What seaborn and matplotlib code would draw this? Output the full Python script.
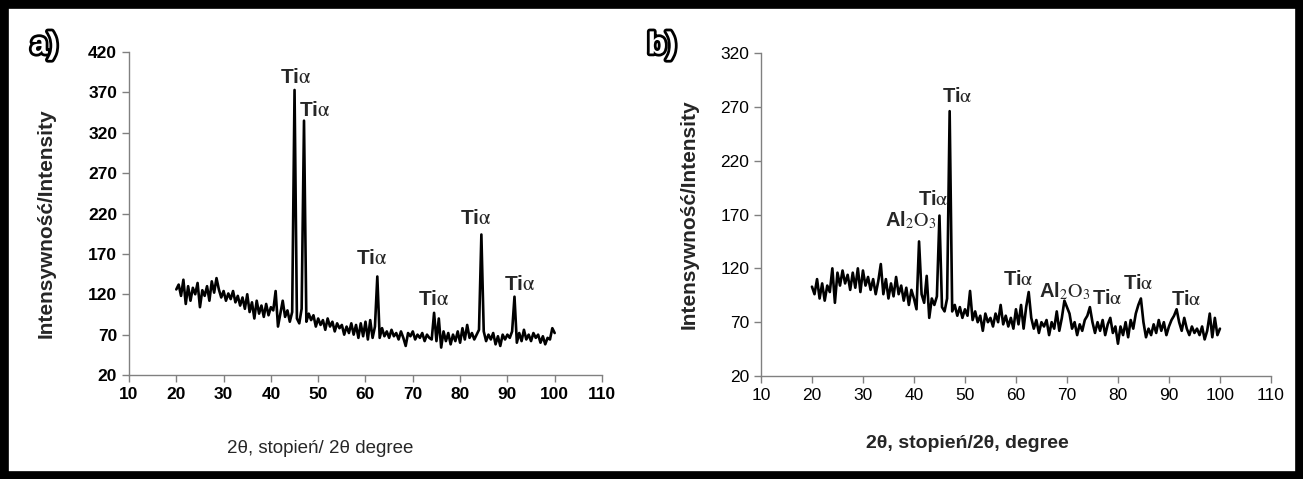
import numpy as np
import pandas as pd
import matplotlib
matplotlib.use("Agg")
import matplotlib.pyplot as plt
import matplotlib.patheffects as pe
from matplotlib.patches import Rectangle
import seaborn as sns

# 2theta grid, step 0.5 deg
two_theta = np.arange(20.0, 100.01, 0.5)

intensity_a = [
    126, 132, 118, 138, 108, 130, 112, 128, 120, 134,
    104, 125, 118, 130, 112, 136, 122, 140, 126, 116,
    124, 112, 121, 114, 124, 110, 118, 106, 116, 102,
    120, 98, 110, 90, 112, 96, 106, 92, 108, 94,
    104, 100, 124, 80, 96, 112, 92, 100, 86, 98,
    373, 90, 84, 102, 335, 86, 96, 88, 94, 80,
    90, 82, 88, 76, 90, 80, 86, 74, 84, 78,
    82, 70, 80, 72, 84, 70, 82, 66, 84, 68,
    86, 64, 88, 66, 80, 142, 66, 78, 68, 74,
    66, 76, 68, 72, 64, 74, 66, 56, 72, 68,
    74, 64, 70, 66, 72, 62, 70, 66, 64, 97,
    62, 90, 54, 74, 62, 72, 58, 70, 62, 74,
    60, 78, 64, 82, 66, 72, 64, 70, 76, 194,
    74, 62, 70, 64, 72, 58, 68, 56, 70, 64,
    70, 66, 74, 117, 60, 72, 62, 76, 64, 70,
    62, 72, 66, 70, 60, 68, 58, 66, 64, 78,
    72,
]

intensity_b = [
    103, 96, 110, 92, 106, 90, 104, 98, 120, 88,
    116, 104, 118, 106, 114, 100, 116, 102, 120, 98,
    118, 104, 112, 100, 110, 96, 108, 124, 96, 110,
    92, 106, 94, 112, 96, 104, 90, 102, 86, 100,
    92, 82, 145, 96, 88, 113, 74, 92, 86, 94,
    169, 84, 80, 92, 266, 80, 86, 76, 84, 74,
    82, 76, 99, 72, 80, 70, 76, 62, 78, 70,
    74, 66, 78, 70, 86, 68, 76, 66, 74, 64,
    82, 68, 86, 64, 84, 98, 74, 64, 72, 60,
    70, 66, 72, 58, 70, 64, 80, 62, 74, 90,
    84, 78, 64, 70, 58, 68, 62, 72, 76, 84,
    70, 60, 70, 62, 72, 58, 68, 74, 60, 66,
    50, 66, 58, 70, 56, 72, 64, 78, 86, 92,
    70, 56, 64, 58, 68, 60, 72, 62, 70, 58,
    66, 72, 76, 82, 70, 62, 74, 64, 58, 66,
    60, 64, 58, 66, 54, 62, 78, 56, 74, 58,
    64,
]

ti = r"Ti$\mathrm{\alpha}$"
al = r"Al$_{2}\mathrm{O}_{3}$"

# peak labels: (text, x, y)
labels_a = [(ti, 45.3, 389), (ti, 49.3, 348), (ti, 61.3, 164),
            (ti, 74.4, 113), (ti, 83.4, 214), (ti, 92.6, 132)]
labels_b = [(ti, 48.4, 280), (ti, 43.7, 184), (al, 39.4, 165),
            (ti, 60.5, 110), (al, 69.6, 99), (ti, 77.9, 92),
            (ti, 84.0, 106), (ti, 93.4, 91)]

sns.set_style("white")
plt.rcParams["font.family"] = ["Liberation Sans", "DejaVu Sans"]
plt.rcParams["mathtext.fontset"] = "stix"

fig = plt.figure(figsize=(13.03, 4.79), dpi=100)
ax_a = fig.add_axes([0.0990, 0.2171, 0.3630, 0.6743])
ax_b = fig.add_axes([0.5840, 0.2150, 0.3914, 0.6743])

df_a = pd.DataFrame({"two_theta": two_theta, "intensity": intensity_a})
df_b = pd.DataFrame({"two_theta": two_theta, "intensity": intensity_b})

sns.lineplot(data=df_a, x="two_theta", y="intensity", ax=ax_a,
             color="black", linewidth=1.9)
sns.lineplot(data=df_b, x="two_theta", y="intensity", ax=ax_b,
             color="black", linewidth=1.9)


def style_axes(ax, ymax, bold_ticks):
    ax.set_xlim(10, 110)
    ax.set_ylim(20, ymax)
    ax.set_xticks(range(10, 111, 10))
    ax.set_yticks(range(20, ymax + 1, 50))
    for side in ["top", "right"]:
        ax.spines[side].set_visible(False)
    for side in ["left", "bottom"]:
        ax.spines[side].set_color("#808080")
        ax.spines[side].set_linewidth(1.0)
    ax.tick_params(axis="both", direction="out", length=5, width=1,
                   color="#808080", labelsize=12.5, labelcolor="black")
    ax.tick_params(axis="both", bottom=True, left=True)
    if bold_ticks:
        plt.setp(ax.get_xticklabels() + ax.get_yticklabels(), fontweight="bold")


style_axes(ax_a, 420, True)
style_axes(ax_b, 320, False)

ax_a.set_ylabel("Intensywność/Intensity", fontsize=15, fontweight="bold")
ax_b.set_ylabel("Intensywność/Intensity", fontsize=15, fontweight="bold")
ax_a.yaxis.set_label_coords(-0.155, 0.47)
ax_b.yaxis.set_label_coords(-0.123, 0.50)
ax_a.set_xlabel("2θ, stopień/ 2θ degree", fontsize=13.5)
ax_b.set_xlabel("2θ, stopień/2θ, degree", fontsize=14, fontweight="bold")
ax_a.xaxis.set_label_coords(0.405, -0.20)
ax_b.xaxis.set_label_coords(0.405, -0.183)

for txt, x, y in labels_a:
    ax_a.text(x, y, txt, ha="center", va="center", fontsize=15, fontweight="bold")
for txt, x, y in labels_b:
    ax_b.text(x, y, txt, ha="center", va="center", fontsize=14.5, fontweight="bold")

outline = [pe.Stroke(linewidth=4, foreground="black"), pe.Normal()]
fig.text(0.034, 0.905, "a)", fontsize=22, fontweight="bold", color="white",
         ha="center", va="center", path_effects=outline)
fig.text(0.508, 0.905, "b)", fontsize=22, fontweight="bold", color="white",
         ha="center", va="center", path_effects=outline)

fig.patches.append(Rectangle((0, 0), 1, 1, transform=fig.transFigure,
                             fill=False, edgecolor="black", linewidth=12))

fig.savefig("out.png", dpi=100)
